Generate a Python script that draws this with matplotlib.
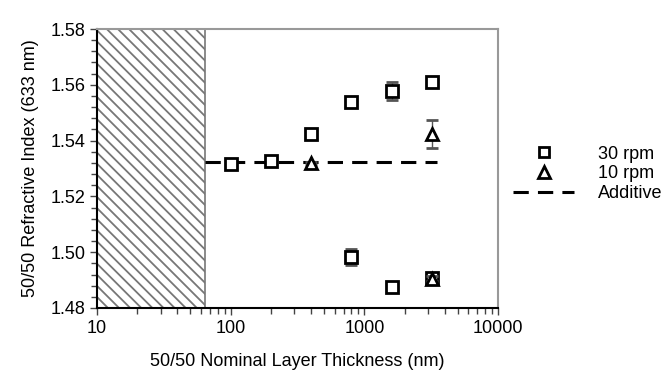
import numpy as np
import matplotlib.pyplot as plt
from matplotlib.ticker import MultipleLocator, FixedLocator, LogLocator, NullFormatter
from matplotlib.patches import Rectangle
from matplotlib.lines import Line2D

plt.rcParams['font.family'] = ['Liberation Sans', 'DejaVu Sans']
plt.rcParams['hatch.color'] = '#9a9a9a'
plt.rcParams['hatch.linewidth'] = 1.3

# ===== data =====
# 30 rpm (open squares), two branches
x30 = [100, 200, 400, 800, 1600, 3200, 800, 1600, 3200]
y30 = [1.5316, 1.5326, 1.5424, 1.5538, 1.5578, 1.5610, 1.4983, 1.4876, 1.4908]
e30 = [0.0008, 0.0008, 0.0010, 0.0010, 0.0032, 0.0010, 0.0030, 0.0008, 0.0010]

# 10 rpm (open triangles)
x10 = [400, 3200, 3200]
y10 = [1.5318, 1.5425, 1.4905]
e10 = [0.0006, 0.0050, 0.0008]

# additive line
x_add = [64, 3500]
y_add = [1.5325, 1.5325]

# hatched (excluded) region
hatch_x = [10, 64]

fig = plt.figure(figsize=(6.62, 3.78), dpi=100)
ax = fig.add_axes([97 / 662, 1 - 308 / 378, 401 / 662, 279 / 378])

ax.add_patch(Rectangle((hatch_x[0], 1.48), hatch_x[1] - hatch_x[0], 0.1,
                       facecolor='white', edgecolor='#777777', hatch='\\\\\\',
                       linewidth=1.2, zorder=1))

ax.plot(x_add, y_add, color='black', linestyle=(0, (5, 3)), linewidth=2.2, zorder=2)
ax.errorbar(x30, y30, yerr=e30, fmt='s', mfc='white', mec='black', mew=2,
            ms=8, ecolor='#555555', elinewidth=1, capsize=4, zorder=3)
ax.errorbar(x10, y10, yerr=e10, fmt='^', mfc='white', mec='black', mew=2,
            ms=9, ecolor='#555555', elinewidth=1, capsize=4, zorder=4)

ax.set_xscale('log')
ax.set_xlim(10, 10000)
ax.set_ylim(1.48, 1.58)
ax.yaxis.set_major_locator(MultipleLocator(0.02))
ax.yaxis.set_minor_locator(MultipleLocator(0.004))
ax.xaxis.set_major_locator(FixedLocator([10, 100, 1000, 10000]))
ax.xaxis.set_minor_locator(LogLocator(base=10, subs=np.arange(2, 10)))
ax.xaxis.set_minor_formatter(NullFormatter())
ax.set_xticklabels(['10', '100', '1000', '10000'])
ax.set_yticks([1.48, 1.50, 1.52, 1.54, 1.56, 1.58])
ax.set_yticklabels(['1.48', '1.50', '1.52', '1.54', '1.56', '1.58'])
ax.tick_params(axis='both', which='both', direction='out', labelsize=13, width=1, color='#444444')
ax.tick_params(which='major', length=5)
ax.tick_params(which='minor', length=4)

for s in ['left', 'bottom']:
    ax.spines[s].set_color('black')
    ax.spines[s].set_linewidth(1.5)
for s in ['top', 'right']:
    ax.spines[s].set_color('#999999')
    ax.spines[s].set_linewidth(1.5)

ax.set_xlabel('50/50 Nominal Layer Thickness (nm)', fontsize=13, labelpad=12)
ax.set_ylabel('50/50 Refractive Index (633 nm)', fontsize=13, labelpad=8)

handles = [
    Line2D([], [], marker='s', ls='none', mfc='white', mec='black', mew=2, ms=7),
    Line2D([], [], marker='^', ls='none', mfc='white', mec='black', mew=2, ms=8),
    Line2D([], [], color='black', ls=(0, (5, 3)), lw=2.2),
]
fig.legend(handles, ['30 rpm', '10 rpm', 'Additive'],
           loc='center left', bbox_to_anchor=(513 / 662, 1 - 174 / 378),
           frameon=False, fontsize=13, handlelength=3.4, labelspacing=0.15,
           handletextpad=1.3, borderpad=0, borderaxespad=0)

fig.savefig('out.png', dpi=100)
